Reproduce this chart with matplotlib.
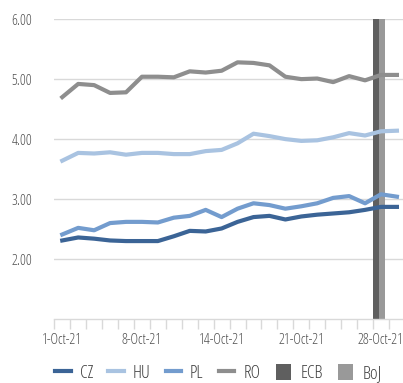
# Bond yields chart: CEE 10y yields, October 2021, with ECB / BoJ meeting markers
import numpy as np
import matplotlib.pyplot as plt

plt.rcParams['font.family'] = ['Open Sans', 'DejaVu Sans']
plt.rcParams['font.stretch'] = 'condensed'

# Trading days shown on the category axis
dates = ['1-Oct-21', '4-Oct-21', '5-Oct-21', '6-Oct-21', '7-Oct-21', '8-Oct-21',
         '9-Oct-21', '11-Oct-21', '12-Oct-21', '13-Oct-21', '14-Oct-21', '15-Oct-21',
         '18-Oct-21', '19-Oct-21', '20-Oct-21', '21-Oct-21', '22-Oct-21', '25-Oct-21',
         '26-Oct-21', '27-Oct-21', '28-Oct-21', '29-Oct-21']

cz = [2.31, 2.36, 2.34, 2.31, 2.30, 2.30, 2.30, 2.38, 2.47, 2.46, 2.51,
      2.62, 2.70, 2.72, 2.66, 2.71, 2.74, 2.76, 2.78, 2.82, 2.87, 2.87]
hu = [3.64, 3.77, 3.76, 3.78, 3.74, 3.77, 3.77, 3.75, 3.75, 3.80, 3.82,
      3.93, 4.09, 4.05, 4.00, 3.97, 3.98, 4.03, 4.10, 4.06, 4.13, 4.14]
pl = [2.41, 2.52, 2.48, 2.60, 2.62, 2.62, 2.61, 2.69, 2.72, 2.82, 2.70,
      2.84, 2.93, 2.90, 2.84, 2.88, 2.93, 3.02, 3.05, 2.93, 3.08, 3.04]
ro = [4.70, 4.92, 4.90, 4.77, 4.78, 5.04, 5.04, 5.03, 5.13, 5.11, 5.14,
      5.28, 5.27, 5.23, 5.04, 5.00, 5.01, 4.95, 5.05, 4.98, 5.07, 5.07]

# central bank meetings
meeting_day = '28-Oct-21'
ecb = [6.0]
boj = [6.0]

x = np.arange(len(dates))
grid_c = '#d9d9d9'
text_c = '#505050'

fig = plt.figure(figsize=(4.03, 3.83), dpi=100)
ax = fig.add_axes([0.1347, 0.167, 0.87, 0.783])

# meeting bars sit in the category slot of the meeting day
m = dates.index(meeting_day)
w = 0.375
ax.bar(m - 0.5 + w / 2, ecb, width=w, color='#5f5f5f', label='ECB', zorder=2)
ax.bar(m - 0.5 + 1.5 * w, boj, width=w, color='#999999', label='BoJ', zorder=2)

lw = 3
ax.plot(x, cz, color='#3b6496', lw=lw, label='CZ', zorder=3)
ax.plot(x, hu, color='#a9c3e1', lw=lw, label='HU', zorder=3)
ax.plot(x, pl, color='#739cce', lw=lw, label='PL', zorder=3)
ax.plot(x, ro, color='#8e8e8e', lw=lw, label='RO', zorder=3)

ax.set_xlim(-0.5, len(dates) - 0.5)
ax.set_ylim(1, 6)

ax.set_yticks([2, 3, 4, 5, 6])
ax.set_yticklabels(['%.2f' % v for v in [2, 3, 4, 5, 6]])
ax.yaxis.grid(True, color=grid_c, lw=1)
ax.set_axisbelow(True)
ax.tick_params(axis='y', length=0, pad=16, labelsize=10.5, labelcolor=text_c)

ax.set_xticks(x[::5])
ax.set_xticklabels(dates[::5])
ax.set_xticks(np.arange(len(dates) + 1) - 0.5, minor=True)
ax.tick_params(axis='x', which='major', length=0, pad=10, labelsize=10.5, labelcolor=text_c)
ax.tick_params(axis='x', which='minor', length=7, color=grid_c, width=1)

for s in ['top', 'right', 'left']:
    ax.spines[s].set_visible(False)
ax.spines['bottom'].set_color(grid_c)
ax.spines['bottom'].set_linewidth(1)

handles, labels = ax.get_legend_handles_labels()
order = ['CZ', 'HU', 'PL', 'RO', 'ECB', 'BoJ']
hl = dict(zip(labels, handles))
fig.legend([hl[k] for k in order], order, loc='center', ncol=6,
           bbox_to_anchor=(0.542, 0.026), frameon=False, fontsize=13,
           labelcolor='#404040', handlelength=0.85, handleheight=0.95,
           columnspacing=0.85, handletextpad=0.5)

fig.savefig('out.png', dpi=100)
